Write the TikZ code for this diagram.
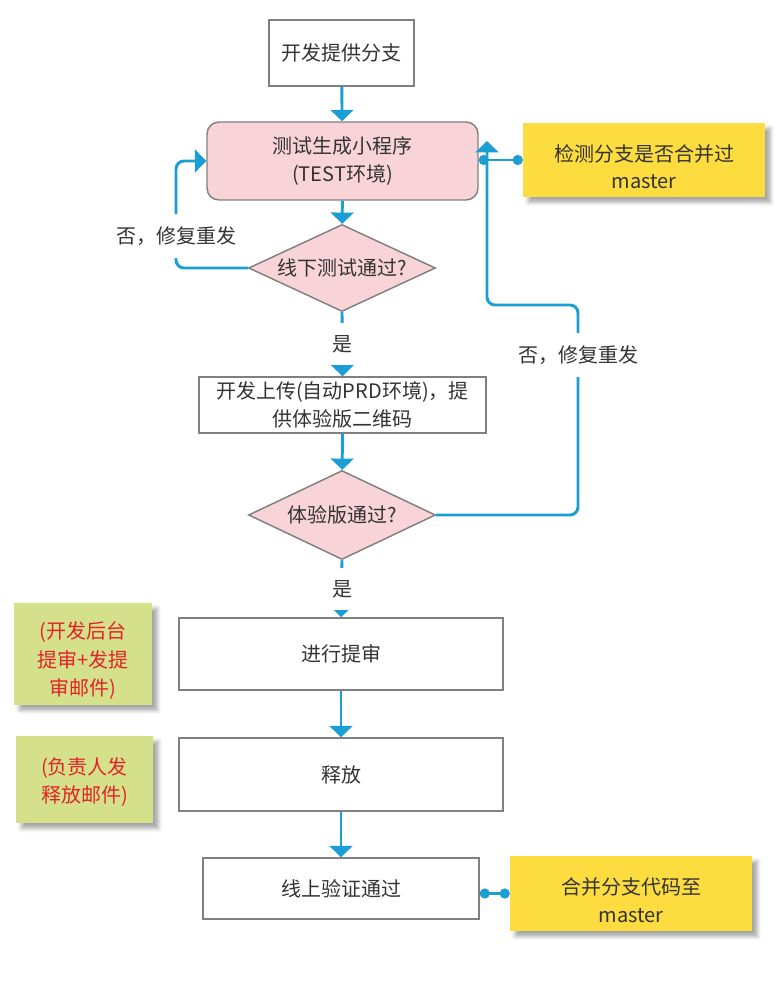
\documentclass[tikz,border=0pt]{standalone}
\usepackage{fontspec}
\setmainfont{Noto Sans CJK SC}
\usetikzlibrary{shapes.geometric,arrows.meta,shadows.blur}
\definecolor{flowblue}{HTML}{1A9ED4}
\definecolor{edgegray}{HTML}{808080}
\definecolor{textgray}{HTML}{333333}
\definecolor{testpink}{HTML}{F8D4D9}
\definecolor{noteyellow}{HTML}{FDDC3F}
\definecolor{notegreen}{HTML}{D4E08A}
\definecolor{notered}{HTML}{E2232A}

\begin{document}
\begin{tikzpicture}[x=0.75pt,y=-0.75pt]
        \tikzstyle{every node}=[font=\fontsize{15}{20.5}\selectfont, text=textgray, align=center, inner sep=0pt]
        \tikzstyle{box}=[rectangle, draw=edgegray, line width=1.1pt, fill=white]
        \tikzstyle{check}=[diamond, aspect=2.15, draw=edgegray, line width=1.1pt, fill=testpink, minimum width=140.25pt, minimum height=65.25pt]
        \tikzstyle{note}=[rectangle, blur shadow={shadow xshift=4pt, shadow yshift=-4pt, shadow blur radius=3pt, shadow opacity=35}]
        \tikzstyle{notetext}=[yshift=-5pt]
        \tikzstyle{redtext}=[text=notered, font=\fontsize{15}{21.5}\selectfont]
        \tikzstyle{flow}=[draw=flowblue, line width=2.2pt, rounded corners=6pt, -{Triangle[width=17pt,length=8.5pt]}]
        \tikzstyle{link}=[draw=flowblue, line width=2.2pt, {Circle[length=7.5pt]}-{Circle[length=7.5pt]}]
        \tikzstyle{answer}=[fill=white, inner xsep=3pt, inner ysep=9pt]
        \useasboundingbox (0,0) rectangle (782,988);

        \node[box, minimum width=108.75pt, minimum height=49.5pt] (Branch) at (341.5,53) {开发提供分支};
        \node[box, fill=testpink, rounded corners=9pt, minimum width=203.25pt, minimum height=58.5pt] (TestBuild) at (342.5,161) {测试生成小程序\\(TEST环境)};
        \node[check] (OfflineCheck) at (342,268) {线下测试通过?};
        \node[box, minimum width=215.25pt, minimum height=42pt] (Upload) at (342.5,405) {开发上传(自动PRD环境)，提\\供体验版二维码};
        \node[check, minimum height=66.75pt] (ExpCheck) at (342,515) {体验版通过?};
        \node[box, minimum width=243pt, minimum height=54pt] (Review) at (341,654) {进行提审};
        \node[box, minimum width=243pt, minimum height=54.75pt] (Release) at (341,774.5) {释放};
        \node[box, minimum width=207pt, minimum height=45.75pt] (Verify) at (341,888.5) {线上验证通过};

        \node[note, fill=noteyellow, minimum width=181.5pt, minimum height=55.5pt,
              label={[notetext]center:检测分支是否合并过\\master}] (CheckNote) at (644,160) {};
        \node[note, fill=noteyellow, minimum width=181.5pt, minimum height=56.25pt,
              label={[notetext]center:合并分支代码至\\master}] (MergeNote) at (631,893.5) {};
        \node[note, fill=notegreen, minimum width=103.5pt, minimum height=76.5pt,
              label={[notetext, redtext]center:(开发后台\\提审+发提\\审邮件)}] (ReviewNote) at (83,654) {};
        \node[note, fill=notegreen, minimum width=102.75pt, minimum height=65.25pt,
              label={[notetext, redtext, yshift=3pt]center:(负责人发\\释放邮件)}] (ReleaseNote) at (84.5,779.5) {};

        \coordinate (LoopLeft) at (176,268);
        \coordinate (LoopRight) at (578,515);
        \coordinate (BackTurn) at (578,305);
        \coordinate (BackUp) at (487,305);
        \coordinate (BackEnd) at (487,141);

        \path[flow] (Branch) -- (TestBuild);
        \path[flow] (TestBuild) -- (OfflineCheck);
        \path[flow] (OfflineCheck.west) -- (LoopLeft) |- (TestBuild.west);
        \path[flow] (OfflineCheck.south) -- (Upload.north);
        \path[flow] (Upload) -- (ExpCheck);
        \path[flow] (ExpCheck.east) -- (LoopRight) -- (BackTurn) -- (BackUp) -- (BackEnd);
        \path[flow] (ExpCheck.south) -- (Review.north);
        \path[flow] (Review) -- (Release);
        \path[flow] (Release) -- (Verify);
        \path[link] (CheckNote.west) -- (TestBuild.east |- CheckNote.west);
        \path[link] (Verify.east |- MergeNote.west) -- (MergeNote.west);

        \node[answer] (NoA) at (176,236) {否，修复重发};
        \node[answer] (NoB) at (578,355) {否，修复重发};
        \node[answer] (YesA) at (342,344) {是};
        \node[answer] (YesB) at (342,589) {是};
\end{tikzpicture}
\end{document}
